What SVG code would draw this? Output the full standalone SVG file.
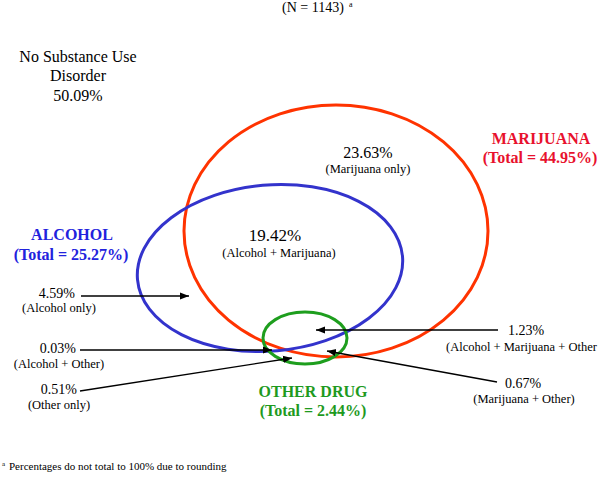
<svg xmlns="http://www.w3.org/2000/svg" width="600" height="484" viewBox="0 0 600 484">
<style>
text{font-family:"Liberation Serif","Times New Roman",serif;fill:#000}
.big{font-size:16px}
.num{font-size:14px}
.sub{font-size:12.5px}
.hd{font-size:16px;font-weight:bold}
.c{text-anchor:middle}
.r{text-anchor:end}
.set{fill:none;stroke-width:3}
.arr{stroke:#000;stroke-width:1.3;fill:none;marker-end:url(#ah)}
</style>
<defs>
<marker id="ah" viewBox="0 0 10 10" refX="10" refY="5" markerWidth="9" markerHeight="9" markerUnits="userSpaceOnUse" orient="auto">
<path d="M0,1 L10,5 L0,9 z" fill="#000"/>
</marker>
</defs>
<rect width="600" height="484" fill="#fff"/>
<text class="num" x="282" y="12">(N = 1143)</text>
<text x="349" y="7" font-size="8">a</text>
<g id="none">
<text class="big c" x="78" y="62">No Substance Use</text>
<text class="big c" x="78" y="81">Disorder</text>
<text class="big c" x="78" y="101">50.09%</text>
</g>
<g id="marijuana">
<ellipse class="set" cx="336" cy="231" rx="152" ry="126" stroke="#FF3300"/>
<text class="hd c" x="541" y="144" style="fill:#E8112D">MARIJUANA</text>
<text class="hd c" x="540" y="163" style="fill:#E8112D">(Total = 44.95%)</text>
<text class="c" x="368" y="158" font-size="16">23.63%</text>
<text class="sub c" x="368" y="173">(Marijuana only)</text>
</g>
<g id="alcohol">
<ellipse class="set" cx="270" cy="268" rx="133" ry="83" stroke="#3333CC" transform="rotate(-5 270 268)"/>
<text class="hd c" x="72" y="240" style="fill:#2222DD">ALCOHOL</text>
<text class="hd c" x="71" y="260" style="fill:#2222DD">(Total = 25.27%)</text>
<text class="c" x="275" y="241" font-size="17">19.42%</text>
<text class="sub c" x="279" y="257">(Alcohol + Marijuana)</text>
</g>
<g id="other">
<ellipse class="set" cx="305" cy="338" rx="42" ry="26" stroke="#1E9E1E"/>
<text class="hd c" x="313" y="397" style="fill:#1E9A1E">OTHER DRUG</text>
<text class="hd c" x="313" y="416" style="fill:#1E9A1E">(Total = 2.44%)</text>
</g>
<g id="lbl-alcohol-only">
<text class="num r" x="75" y="298">4.59%</text>
<text class="sub c" x="59" y="312">(Alcohol only)</text>
</g>
<g id="lbl-alcohol-other">
<text class="num r" x="76" y="353">0.03%</text>
<text class="sub c" x="59" y="368">(Alcohol + Other)</text>
</g>
<g id="lbl-other-only">
<text class="num r" x="77" y="394">0.51%</text>
<text class="sub c" x="59" y="409">(Other only)</text>
</g>
<g id="lbl-all">
<text class="num" x="508" y="335">1.23%</text>
<text class="sub" x="446" y="351">(Alcohol + Marijuana + Other</text>
</g>
<g id="lbl-mar-other">
<text class="num c" x="523" y="388">0.67%</text>
<text class="sub c" x="524" y="403">(Marijuana + Other)</text>
</g>
<g id="connectors">
<line class="arr" x1="81" y1="296" x2="189" y2="296"/>
<line class="arr" x1="80" y1="350" x2="272" y2="350"/>
<line class="arr" x1="80" y1="391" x2="292" y2="358"/>
<line class="arr" x1="498" y1="330" x2="316" y2="330"/>
<line class="arr" x1="497" y1="382" x2="327" y2="351"/>
</g>
<text x="2" y="466" font-size="7">a</text>
<text x="9" y="470" font-size="11">Percentages do not total to 100% due to rounding</text>
</svg>
